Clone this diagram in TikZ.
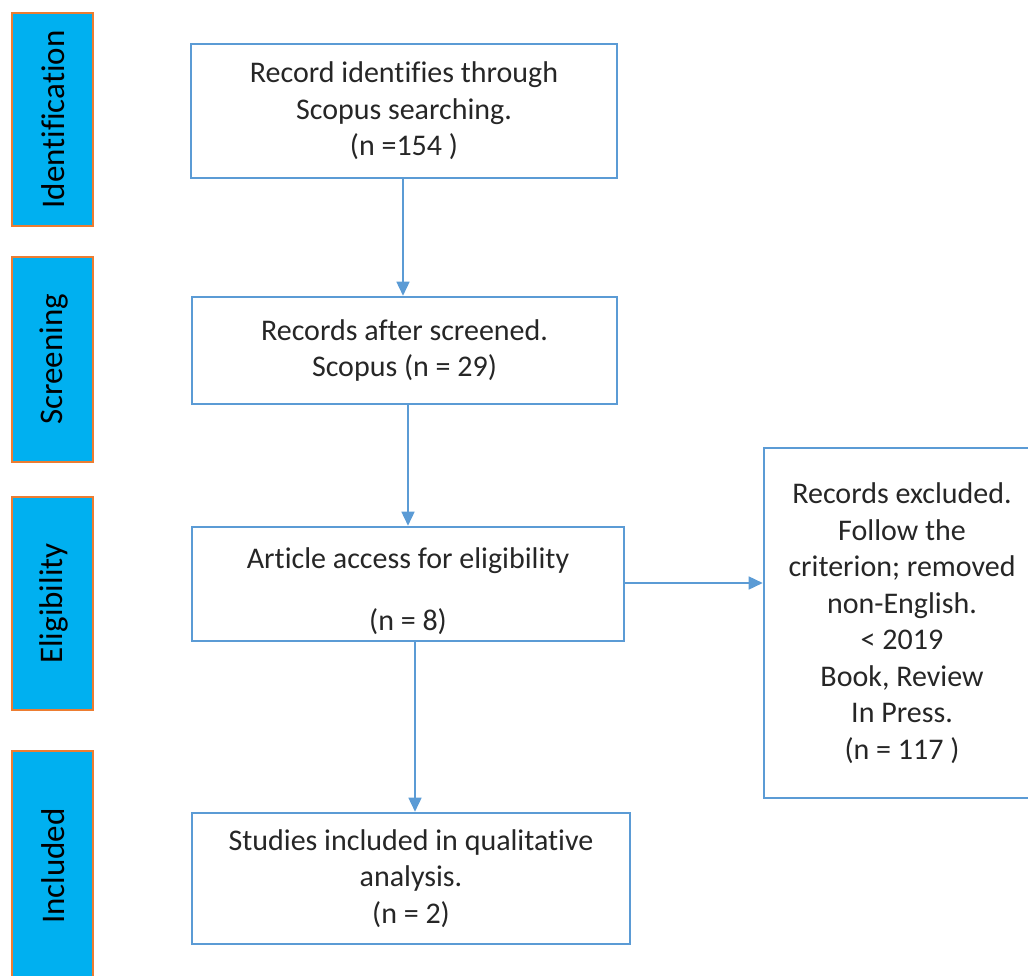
\documentclass[tikz,border=0pt]{standalone}
\usepackage{fontspec}
\setmainfont{Carlito}[Ligatures=NoCommon]
\usetikzlibrary{arrows.meta}
\definecolor{boxblue}{HTML}{5B9BD5}
\definecolor{barfill}{HTML}{00B0F0}
\definecolor{barline}{HTML}{ED7D31}
\tikzset{
  boxtext/.style={inner sep=0pt, align=center, font=\fontsize{30}{36.5}\selectfont, text=black!85},
  flowbox/.style={boxtext, draw=boxblue, line width=2.6pt, rectangle},
  phasebar/.style={draw=barline, fill=barfill, line width=1.3pt, rectangle, inner sep=0pt,
    minimum width=81pt},
  phaselabel/.style={rotate=90, font=\fontsize{33}{38}\selectfont, text=black},
  arr/.style={draw=boxblue, line width=1.6pt, -{Triangle[length=14pt,width=13pt]}}
}
\begin{document}
\begin{tikzpicture}[x=1pt,y=-1pt]
\useasboundingbox (0,0) rectangle (1028,976);
% phase bars
\node[phasebar, minimum height=213pt] (p1) at (52.5,119.5) {};
\node[phaselabel] (l1) at ([xshift=1pt]p1.center) {Identification};
\node[phasebar, minimum height=205pt] (p2) at (52.5,359.5) {};
\node[phaselabel] (l2) at ([xshift=1pt]p2.center) {Screening};
\node[phasebar, minimum height=213pt] (p3) at (52.5,603.5) {};
\node[phaselabel] (l3) at ([xshift=1pt]p3.center) {Eligibility};
\node[phasebar, minimum height=230pt] (p4) at (52.5,866) {};
\node[phaselabel] (l4) at ([xshift=1pt]p4.center) {Included};
% flow boxes
\node[flowbox, minimum width=426pt, minimum height=134pt] (b1) at (404,111)
  {Record identifies through\\Scopus searching.\\(n =154 )};
\node[flowbox, minimum width=425pt, minimum height=107pt] (b2) at (404.5,350.5)
  {Records after screened.\\Scopus (n = 29)};
\node[flowbox, minimum width=432pt, minimum height=114pt] (b3) at (408,584) {};
\node[boxtext] (t3) at ([yshift=-7pt]b3.center)
  {Article access for eligibility\\[25.5pt](n = 8)};
\node[flowbox, minimum width=438pt, minimum height=131pt] (b4) at (411,878.5)
  {Studies included in qualitative\\analysis.\\(n = 2)};
\node[flowbox, minimum width=276pt, minimum height=350pt] (ex) at (902,623)
  {Records excluded.\\Follow the\\criterion; removed\\non-English.\\< 2019\\Book, Review\\In Press.\\(n = 117 )};
% connectors
\draw[arr] ([xshift=-1pt]b1.south) -- ([xshift=-1pt]b1.south |- b2.north);
\draw[arr] ([xshift=3.5pt]b2.south) -- ([xshift=3.5pt]b2.south |- b3.north);
\draw[arr] ([xshift=7pt]b3.south) -- ([xshift=7pt]b3.south |- b4.north);
\draw[arr] ([yshift=1pt]b3.east) -- ([yshift=1pt]b3.east -| ex.west);
\end{tikzpicture}
\end{document}
